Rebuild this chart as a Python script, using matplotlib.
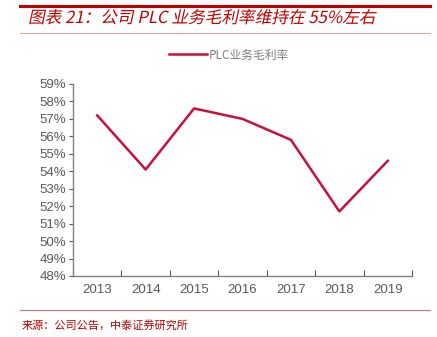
import matplotlib.pyplot as plt
import numpy as np
from matplotlib.textpath import TextPath
from matplotlib.patches import PathPatch
from matplotlib.font_manager import FontProperties
from matplotlib.transforms import Affine2D

plt.rcParams['font.family'] = ['Noto Sans CJK SC', 'DejaVu Sans']

# 数据
years = ['2013', '2014', '2015', '2016', '2017', '2018', '2019']
margin = [57.2, 54.1, 57.6, 57.0, 55.8, 51.7, 54.6]
y_ticks = list(range(48, 60))

title = '图表 21：公司 PLC 业务毛利率维持在 55%左右'
source = '来源：公司公告，中泰证券研究所'

line_color = '#C8103E'
red = '#C00000'
grey = '#595959'
num_font = 'Liberation Sans'

fig = plt.figure(figsize=(4.37, 3.37), dpi=100)

# 页眉：粗红线、斜体标题、细线
fig.add_artist(plt.Line2D([20 / 437, 430 / 437], [1 - 5.5 / 337] * 2, color=red, lw=2.2))
tp = TextPath((0, 0), title, size=12, prop=FontProperties(family='Noto Sans CJK SC'))
tr = Affine2D().skew_deg(12, 0).scale(1 / 72).translate(28 / 100, (337 - 23) / 100) + fig.dpi_scale_trans
fig.add_artist(PathPatch(tp, transform=tr, facecolor=red, lw=0))
fig.add_artist(plt.Line2D([20 / 437, 430 / 437], [1 - 33 / 337] * 2, color='#E8A0A0', lw=0.8))

ax = fig.add_axes([73 / 437, 1 - 276 / 337, 339 / 437, 192 / 337])
x = np.arange(len(years))
ax.plot(x, margin, color=line_color, lw=1.8, label='PLC业务毛利率')

ax.set_xlim(-0.5, len(years) - 0.5)
ax.set_ylim(48, 59)
ax.set_yticks(y_ticks)
ax.set_yticklabels([f'{v}%' for v in y_ticks], fontfamily=num_font)
ax.set_xticks(np.arange(-0.5, len(years), 1.0))
ax.set_xticklabels([])
ax.set_xticks(x, minor=True)
ax.set_xticklabels(years, minor=True, fontfamily=num_font)
ax.tick_params(axis='x', which='major', length=4, color=grey, direction='in')
ax.tick_params(axis='x', which='minor', length=0, labelsize=9.5, labelcolor=grey, pad=6)
ax.tick_params(axis='y', length=3, color=grey, labelsize=9.5, labelcolor=grey, pad=2)

for s in ['top', 'right']:
    ax.spines[s].set_visible(False)
for s in ['left', 'bottom']:
    ax.spines[s].set_color('#808080')
    ax.spines[s].set_linewidth(1.0)

ax.legend(loc='center', bbox_to_anchor=(0.46, 1 + 29 / 192), frameon=False,
          fontsize=8.5, labelcolor='#7F7F7F', handlelength=3.2, handletextpad=0.2)

# 页脚
fig.add_artist(plt.Line2D([20 / 437, 430 / 437], [1 - 310 / 337] * 2, color='#E07070', lw=0.8))
fig.text(22 / 437, 1 - 325 / 337, source, color=red,
         fontsize=8, va='center', ha='left')

fig.savefig('out.png', dpi=100)
